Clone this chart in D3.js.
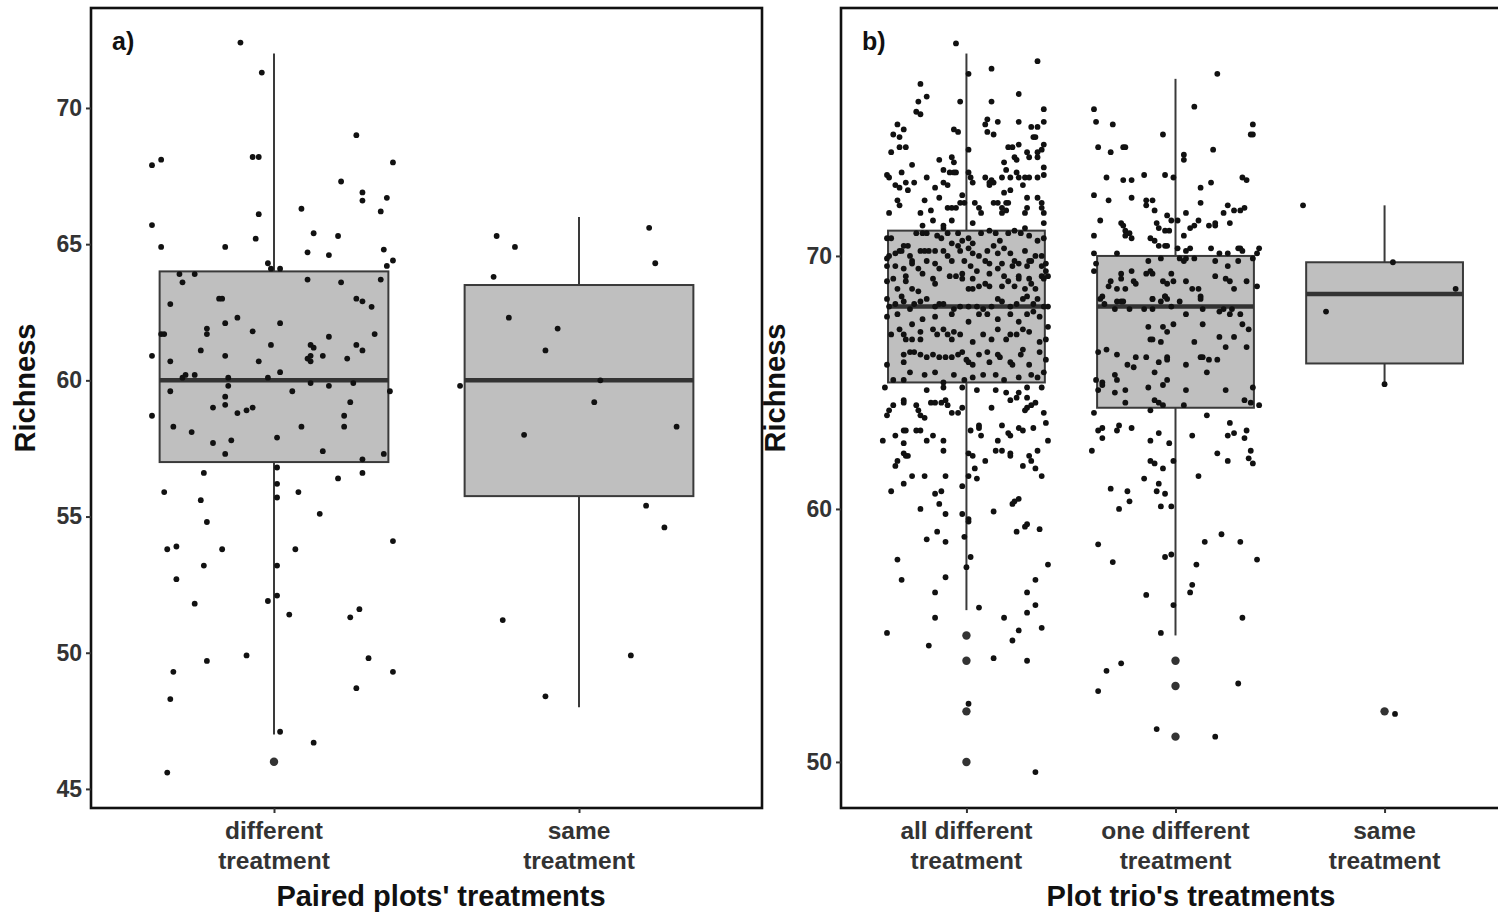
<!DOCTYPE html>
<html><head><meta charset="utf-8">
<script src="https://cdn.jsdelivr.net/npm/d3@7"></script>
<style>
html,body{margin:0;padding:0;background:#fff;}
svg{display:block;font-family:"Liberation Sans",Arial,Helvetica,sans-serif;}
</style></head>
<body><svg id="chart" width="1498" height="913"></svg>
<script>
// ---------- DATA ----------
const aCategories = [["different","treatment"],["same","treatment"]];
const bCategories = [["all different","treatment"],["one different","treatment"],["same","treatment"]];
const aTicks = [45,50,55,60,65,70];
const bTicks = [50,60,70];
// box statistics [lower whisker, Q1, median, Q3, upper whisker]
const aBoxLower = [47, 48], aBoxQ1 = [57, 55.75], aBoxMedian = [60, 60], aBoxQ3 = [64, 63.5], aBoxUpper = [72, 66];
const bBoxLower = [56, 55, 65], bBoxQ1 = [65, 64, 65.75], bBoxMedian = [68, 68, 68.5], bBoxQ3 = [71, 70, 69.75], bBoxUpper = [78, 77, 72];
const aOutliers = [[46.0], []];
const bOutliers = [[55, 54, 52, 50], [54, 53, 51], [52]];
// jittered points: [jitter offset (category units), richness]
const aDifferent = [[-0.11,72.4],[-0.04,71.3],[-0.40,67.9],[-0.37,68.1],[-0.07,68.2],[-0.05,68.2],[0.27,69.0],[0.39,68.0],[0.22,67.3],[0.29,66.9],[0.29,66.6],[0.37,66.7],[0.35,66.2],[0.09,66.3],[-0.40,65.7],[-0.05,66.1],[-0.37,64.9],[-0.16,64.9],[-0.06,65.2],[0.13,65.4],[0.21,65.3],[0.11,64.7],[0.18,64.6],[0.36,64.8],[0.39,64.4],[0.37,64.2],[-0.02,64.3],[-0.01,64.1],[0.02,64.1],[-0.31,63.9],[-0.26,63.9],[-0.30,63.6],[0.11,63.7],[0.22,63.6],[0.35,63.7],[-0.34,62.8],[-0.18,63.0],[-0.17,63.0],[0.27,63.0],[0.29,62.9],[0.32,62.7],[-0.12,62.3],[-0.16,62.1],[0.02,62.1],[-0.22,61.9],[-0.22,61.7],[-0.37,61.7],[-0.36,61.7],[-0.07,61.8],[0.33,61.7],[0.18,61.6],[-0.01,61.3],[0.12,61.3],[0.13,61.2],[0.27,61.3],[0.29,61.1],[-0.24,61.1],[-0.40,60.9],[-0.16,60.9],[-0.34,60.7],[-0.05,60.7],[0.16,60.9],[0.24,60.8],[0.11,60.8],[0.12,60.9],[0.12,60.7],[-0.29,60.2],[-0.26,60.2],[-0.30,60.1],[-0.15,60.1],[-0.02,60.1],[0.02,60.3],[-0.15,59.8],[0.12,59.9],[0.18,59.8],[0.26,59.9],
[0.38,59.6],[-0.34,59.6],[-0.16,59.4],[-0.16,59.1],[-0.20,59.0],[-0.12,58.8],[-0.09,58.9],[-0.07,59.0],[0.06,59.6],[0.25,59.2],[0.23,58.7],[0.23,58.3],[0.09,58.3],[-0.40,58.7],[-0.33,58.3],[-0.27,58.1],[-0.20,57.7],[-0.14,57.8],[0.01,57.9],[-0.16,57.3],[0.16,57.4],[0.36,57.3],[0.29,57.1],[0.01,56.8],[-0.23,56.6],[0.29,56.6],[0.21,56.4],[-0.36,55.9],[-0.24,55.6],[0.01,56.2],[0.01,55.7],[0.08,55.9],[0.15,55.1],[-0.22,54.8],[-0.35,53.8],[-0.32,53.9],[-0.17,53.8],[0.07,53.8],[0.39,54.1],[-0.23,53.2],[0.01,53.2],[-0.32,52.7],[0.01,52.1],[-0.02,51.9],[-0.26,51.8],[0.28,51.6],[0.25,51.3],[0.05,51.4],[-0.09,49.9],[-0.22,49.7],[-0.33,49.3],[0.31,49.8],[0.39,49.3],[0.27,48.7],[-0.34,48.3],[0.02,47.1],[0.13,46.7],[-0.35,45.6]];
const aSame = [[-0.27,65.3],[-0.21,64.9],[-0.28,63.8],[0.23,65.6],[0.25,64.3],[-0.23,62.3],[-0.07,61.9],[-0.11,61.1],[0.07,60.0],[-0.39,59.8],[0.05,59.2],[0.32,58.3],[-0.18,58.0],[0.22,55.4],[0.28,54.6],[-0.25,51.2],[0.17,49.9],[-0.11,48.4]];
const bAllDifferent = [[-0.05,78.4],[0.01,77.2],[0.34,77.7],[0.12,77.4],[-0.22,76.8],[-0.19,76.3],[-0.23,76.1],[-0.24,75.7],[-0.22,75.6],[-0.03,76.1],[0.12,76.1],[0.25,76.4],[0.37,75.8],[0.37,75.3],[0.25,75.3],[0.10,75.4],[0.09,75.2],[0.15,75.3],[0.10,74.9],[0.13,74.8],[0.31,75.1],[0.34,75.1],[0.32,74.7],[0.33,74.7],[-0.33,75.2],[-0.35,74.8],[-0.30,75.0],[-0.32,74.7],[-0.32,74.3],[-0.29,74.3],[-0.36,74.1],[-0.06,75.0],[-0.04,74.9],[0.01,74.2],[-0.07,73.9],[0.20,74.3],[0.22,74.3],[0.25,74.4],[0.29,74.1],[0.30,73.9],[0.34,74.1],[0.34,73.9],[0.23,73.9],[0.24,73.8],[0.37,74.4],[0.36,74.2],[-0.26,73.6],[-0.13,73.8],[-0.11,73.4],[0.18,73.7],[0.19,73.4],[0.24,73.3],[-0.06,73.7],[-0.05,73.3],[0.37,73.5],[0.37,73.2],[-0.38,73.2],[-0.37,73.1],[-0.31,73.3],[-0.19,73.1],[-0.08,73.3],[-0.06,73.3],[0.01,73.3],[0.02,73.1],[0.03,72.9],[0.09,73.1],[0.11,72.9],[0.13,72.9],[0.17,73.1],[0.21,73.1],[0.25,73.1],[0.28,73.1],[0.30,73.1],[0.34,73.1],[-0.34,72.8],[-0.32,72.7],[-0.29,72.9],[-0.28,72.6],[-0.25,72.9],[-0.11,72.9],[-0.09,72.8],[-0.15,72.7],[0.11,72.8],[0.12,73.0],[0.27,72.8],[0.21,72.6],[0.18,72.5],[-0.02,72.4],[-0.01,72.1],[-0.03,72.1],[-0.13,72.3],[-0.20,72.2],[-0.33,72.2],[-0.32,72.0],[-0.37,71.7],[-0.22,71.7],[-0.17,71.8],[-0.09,71.9],[-0.07,71.9],[-0.05,71.9],[0.04,72.1],[0.06,71.9],[0.07,71.7],[0.13,72.1],[0.15,72.1],[0.17,71.9],[0.19,72.1],[0.20,72.1],[0.19,71.8],[0.17,71.7],[0.29,72.3],[0.29,71.9],[0.28,71.7],[0.34,72.3],[0.36,71.9],[0.37,71.7],[0.36,72.1],[0.37,71.3],[-0.21,71.2],[-0.16,71.4],[-0.11,71.2],[-0.07,71.4],[0.03,71.3],
[-0.38,70.7],[-0.36,70.7],[-0.32,70.2],[-0.30,70.4],[-0.28,70.4],[-0.24,70.9],[-0.21,70.9],[-0.19,70.9],[-0.14,70.8],[-0.12,70.7],[-0.11,71.1],[-0.09,70.9],[-0.07,70.5],[-0.04,70.9],[-0.02,70.6],[0.01,70.7],[0.03,70.5],[0.07,70.9],[0.11,71.0],[0.14,70.9],[0.16,70.6],[0.20,70.9],[0.23,71.0],[0.26,70.9],[0.28,71.1],[0.30,70.8],[0.34,70.6],[0.37,70.7],
[-0.38,69.9],[-0.37,70.0],[-0.34,70.1],[-0.31,70.2],[-0.27,70.0],[-0.26,69.8],[-0.22,70.2],[-0.20,70.2],[-0.18,70.2],[-0.15,70.2],[-0.11,70.2],[-0.09,70.0],[-0.04,70.4],[-0.03,70.2],[0.01,70.3],[0.03,70.1],[0.06,70.0],[0.10,70.2],[0.13,70.4],[0.15,70.1],[0.18,70.3],[0.21,70.1],[0.23,69.8],[0.28,70.2],[0.30,69.8],[0.33,70.0],[0.36,70.0],[0.38,69.7],
[-0.38,69.6],[-0.34,69.6],[-0.30,69.5],[-0.26,69.7],[-0.23,69.5],[-0.19,69.8],[-0.15,69.7],[-0.13,69.5],[-0.07,69.8],[-0.01,69.8],[0.02,69.6],[0.05,69.4],[0.09,69.8],[0.11,69.7],[0.15,69.5],[0.17,69.7],[0.22,69.6],[0.25,69.7],[0.29,69.6],[0.31,69.8],[0.36,69.6],[0.38,69.4],
[-0.29,69.2],[-0.21,69.3],[-0.16,69.1],[-0.08,69.2],[-0.02,69.3],[0.03,69.1],[0.11,69.3],[0.18,69.2],[0.25,69.2],[0.30,69.1],[0.36,69.2],
[-0.38,69.0],[-0.35,69.1],[-0.33,68.7],[-0.29,69.0],[-0.26,68.7],[-0.23,68.6],[-0.15,68.9],[-0.05,69.2],[-0.02,69.1],[0.01,68.7],[0.03,68.7],[0.06,68.8],[0.09,68.9],[0.11,68.8],[0.17,68.8],[0.20,69.0],[0.23,68.8],[0.25,69.1],[0.28,68.7],[0.31,68.9],[0.33,68.7],[0.37,69.1],[0.39,69.2],
[-0.38,68.3],[-0.37,68.0],[-0.34,68.1],[-0.31,68.4],[-0.30,68.2],[-0.27,67.9],[-0.25,68.1],[-0.22,68.2],[-0.19,68.3],[-0.15,68.0],[-0.13,68.1],[-0.11,68.1],[-0.06,67.9],[-0.03,68.0],[0.01,68.0],[0.05,68.0],[0.08,67.9],[0.12,68.0],[0.15,68.3],[0.17,68.2],[0.21,68.0],[0.24,68.1],[0.27,68.3],[0.29,68.4],[0.32,68.1],[0.34,68.3],[0.37,68.0],[0.39,68.0],
[-0.38,67.6],[-0.33,67.7],[-0.26,67.3],[-0.21,67.5],[-0.15,67.6],[-0.07,67.7],[0.01,67.4],[0.06,67.7],[0.10,67.7],[0.15,67.5],[0.21,67.7],[0.25,67.4],[0.29,67.7],[0.32,67.8],[0.35,67.6],[0.39,67.2],
[-0.36,66.9],[-0.32,67.1],[-0.30,66.9],[-0.29,66.7],[-0.26,66.7],[-0.22,67.0],[-0.22,66.7],[-0.16,67.1],[-0.14,66.9],[-0.11,67.1],[-0.09,66.9],[-0.07,66.7],[-0.06,67.0],[-0.03,66.9],[0.03,66.6],[0.08,66.9],[0.12,66.7],[0.15,67.1],[0.19,66.7],[0.21,66.9],[0.24,66.9],[0.27,67.1],[0.30,67.0],[0.35,66.6],[0.38,66.7],
[-0.38,65.7],[-0.30,65.8],[-0.30,66.1],[-0.27,66.2],[-0.25,66.2],[-0.22,66.1],[-0.19,66.0],[-0.16,66.1],[-0.13,66.0],[-0.10,66.0],[-0.07,66.0],[-0.04,66.1],[-0.02,66.2],[0.00,65.9],[0.01,65.8],[0.03,65.7],[0.06,66.1],[0.10,66.2],[0.11,65.8],[0.15,66.1],[0.16,66.0],[0.21,65.8],[0.22,65.7],[0.26,66.1],[0.27,66.3],[0.30,65.7],[0.35,66.2],[0.38,65.9],
[-0.35,65.1],[-0.30,65.1],[-0.27,65.4],[-0.20,65.3],[-0.15,65.4],[-0.11,65.0],[-0.06,65.3],[-0.01,65.1],[0.03,65.2],[0.08,65.3],[0.14,65.3],[0.18,65.1],[0.25,65.2],[0.31,65.3],[0.34,65.2],[0.37,65.4],
[-0.39,64.8],[-0.30,64.3],[-0.30,64.2],[-0.35,64.1],[-0.37,63.9],[-0.38,63.7],[-0.24,64.1],[-0.23,63.9],[-0.22,63.7],[-0.20,63.6],[-0.17,64.2],[-0.15,64.2],[-0.12,64.2],[-0.10,64.3],[-0.09,64.1],[-0.19,64.7],[-0.11,64.8],[-0.04,63.8],[-0.02,64.0],[-0.07,63.8],[-0.02,64.8],[0.05,64.7],[0.12,64.0],[0.14,64.7],[0.19,64.6],[0.21,64.3],[0.24,64.4],[0.25,64.6],[0.29,64.4],[0.29,64.0],[0.31,64.1],[0.33,64.2],[0.28,63.9],[0.37,63.8],[0.29,64.8],[0.36,64.8],
[-0.40,62.7],[-0.34,62.9],[-0.30,63.1],[-0.30,62.6],[-0.29,63.1],[-0.24,63.1],[-0.22,63.1],[-0.19,62.7],[-0.16,62.9],[-0.11,62.7],[0.02,63.1],[0.06,63.3],[0.06,63.2],[0.07,62.9],[0.15,62.7],[0.17,63.3],[0.20,63.0],[0.21,62.9],[0.25,63.2],[0.27,63.1],[0.32,63.2],[0.38,63.4],[0.39,62.7],[-0.30,62.2],[-0.29,62.1],[-0.28,62.1],[-0.33,61.9],[-0.34,61.7],[-0.26,61.3],[-0.20,61.3],[-0.11,62.3],[-0.10,61.3],[0.01,62.2],[0.03,62.1],[0.04,61.6],[0.09,61.9],[0.14,62.3],[0.17,62.3],[0.21,62.2],[0.21,62.1],[0.30,62.1],[0.31,61.9],[0.34,62.3],[0.27,61.7],[0.33,61.6],[0.36,61.3],[0.01,61.3],[0.05,61.2],[-0.30,61.0],[-0.02,60.9],[-0.36,60.7],[-0.15,60.6],[-0.12,60.7],[-0.13,60.2],[-0.22,60.0],[-0.10,59.8],[-0.02,59.8],[0.22,60.2],[0.23,60.3],[0.25,60.4],[0.13,59.9],[0.01,59.6],[0.29,59.4],
[-0.14,59.1],[-0.19,58.8],[-0.10,58.7],[-0.01,58.9],[0.01,59.5],[0.24,59.1],[0.28,59.3],[0.35,59.2],[-0.33,58.0],[-0.31,57.2],[-0.10,57.3],[0.02,58.1],[0.00,57.7],[-0.15,56.7],[0.39,57.8],[0.33,57.2],[0.29,56.7],[0.33,56.2],[0.29,55.9],[0.06,56.1],[-0.15,55.7],[0.18,55.7],[-0.38,55.1],[-0.18,54.6],[0.25,55.2],[0.22,54.8],[0.36,55.3],[0.13,54.1],[0.29,54.0],[0.01,52.3],[0.33,49.6]];
const bOneDifferent = [[0.20,77.2],[-0.39,75.8],[-0.38,75.3],[-0.30,75.2],[0.09,75.9],[-0.06,74.8],[0.37,75.2],[0.36,74.8],[0.37,74.8],[-0.37,74.3],[-0.31,74.1],[-0.25,74.3],[-0.24,74.3],[0.18,74.2],[0.04,74.0],[0.04,73.8],[-0.33,73.1],[-0.25,73.0],[-0.21,73.0],[-0.15,73.2],[-0.05,73.2],[-0.01,73.1],[0.17,72.9],[0.32,73.1],[0.34,73.0],[0.12,72.7],[-0.39,72.4],[-0.32,72.2],[-0.21,72.3],[-0.14,72.2],[-0.14,72.0],[-0.11,72.2],[-0.10,71.8],[0.12,72.1],[0.25,72.0],[0.23,71.7],[0.28,71.8],[0.31,71.8],[0.33,71.9],[-0.36,71.4],[-0.26,71.3],[-0.25,71.2],[-0.24,71.0],[-0.22,70.9],[-0.04,71.6],[0.05,71.7],[-0.02,71.4],[0.01,71.4],[-0.09,71.3],[-0.08,71.1],[-0.05,71.0],[-0.03,71.0],[0.07,71.1],[0.09,71.2],[0.11,71.4],[0.16,71.2],[0.19,71.3],[0.19,71.2],[0.26,71.3],[-0.39,70.8],[-0.24,70.8],[-0.21,70.7],[-0.12,70.7],[-0.10,70.6],[0.04,70.8],[-0.08,70.4],[-0.05,70.4],[-0.04,70.4],[0.01,70.3],[0.07,70.3],[0.05,70.2],[0.17,70.3],[0.30,70.3],[0.31,70.3],[0.32,70.2],[0.40,70.3],[0.39,70.1],[-0.39,70.1],[-0.28,70.1],[0.21,70.1],[0.25,70.1],[-0.13,69.8],[-0.07,69.9],[0.02,69.9],[0.04,69.8],[0.05,69.9],[0.09,69.9],
[-0.38,69.7],[-0.39,69.4],[-0.31,69.0],[-0.32,68.8],[-0.28,68.7],[-0.26,69.3],[-0.26,69.1],[-0.24,68.7],[-0.21,69.4],[-0.20,69.0],[-0.19,68.9],[-0.14,69.3],[-0.12,69.4],[-0.11,69.3],[-0.06,69.0],[-0.04,68.9],[-0.02,69.3],[-0.01,69.0],[0.05,69.0],[0.08,68.7],[0.11,68.7],[0.12,68.4],[0.19,69.8],[0.19,69.2],[0.24,69.1],[0.25,69.6],[0.26,69.0],[0.28,68.7],[0.30,69.8],[0.34,69.0],[0.37,69.9],[0.39,68.8],[-0.35,68.4],[-0.11,68.3],[-0.05,68.4],
[-0.36,68.3],[-0.34,68.1],[-0.28,68.2],[-0.26,68.2],[-0.25,68.2],[-0.11,68.3],[-0.07,68.2],[-0.04,68.3],[-0.05,68.4],[0.02,68.2],[0.12,68.3],[0.13,67.9],[-0.02,68.0],[-0.11,67.9],[-0.15,67.9],[-0.22,67.9],[-0.29,67.9],[0.21,67.8],[0.23,67.9],[0.27,67.9],[0.26,67.7],[0.31,67.7],
[0.05,67.7],[-0.13,67.2],[-0.06,67.2],[-0.01,67.3],[0.13,67.3],[0.32,67.3],[0.35,67.1],[-0.04,67.0],[-0.12,66.7],[-0.11,66.7],[-0.07,66.6],[0.09,66.6],[0.21,66.8],[0.28,66.8],[0.24,66.4],[0.34,66.4],[-0.33,66.3],[-0.37,66.2],[-0.28,66.1],[-0.19,66.0],[-0.14,66.0],[-0.04,66.0],[-0.04,65.9],[-0.08,65.8],[0.05,65.7],[0.12,66.0],[0.13,66.0],[0.16,65.9],[0.20,65.9],[-0.23,65.7],[-0.20,65.6],[-0.10,65.4],[0.15,65.4],[-0.29,65.3],[-0.28,65.1],[-0.38,65.1],[-0.35,65.0],[-0.35,64.9],[-0.37,64.7],[-0.29,64.6],[-0.24,64.7],[-0.13,64.8],[-0.06,64.9],[-0.04,65.1],[0.05,64.7],[0.24,64.7],[0.37,64.8],[-0.24,64.2],[-0.10,64.3],[-0.08,64.2],[-0.06,64.1],[0.04,64.1],[0.33,64.3],[0.36,64.2],[0.40,64.1],
[-0.39,63.8],[-0.12,63.9],[0.15,63.7],[-0.37,63.1],[-0.35,63.2],[-0.27,63.3],[-0.28,63.1],[-0.21,63.2],[-0.35,62.8],[-0.12,62.7],[-0.08,63.0],[-0.03,62.6],[0.08,62.9],[0.26,63.4],[0.28,63.0],[0.25,62.9],[0.34,63.1],[0.33,62.8],[-0.40,62.3],[-0.12,61.9],[-0.10,61.8],[-0.06,61.6],[-0.01,61.9],[0.20,62.2],[0.25,61.9],[0.36,62.3],[0.35,62.0],[0.37,61.8],[0.11,61.3],[-0.15,61.2],[-0.31,60.8],[-0.23,60.7],[-0.08,61.0],[-0.09,60.7],[-0.05,60.6],[-0.22,60.3],[-0.27,60.0],[-0.07,60.1],[-0.02,60.1],[0.22,59.0],
[-0.37,58.6],[-0.30,57.9],[-0.05,58.1],[-0.02,58.2],[0.10,57.8],[0.14,58.7],[0.31,58.7],[0.39,58.0],[-0.14,56.6],[0.07,56.7],[0.08,57.0],[-0.01,56.2],[0.32,55.7],[-0.07,55.1],[-0.33,53.6],[-0.26,53.9],[-0.37,52.8],[0.30,53.1],[-0.09,51.3],[0.19,51.0]];
const bSame = [[-0.39,72.0],[0.04,69.75],[0.34,68.7],[-0.28,67.8],[0.00,64.93],[0.05,51.9]];

// ---------- DRAW ----------
const svg = d3.select("#chart");
const TEXT = "#333333";

function drawPanel(cfg) {
  const g = svg.append("g");
  const x = d3.scaleLinear().domain([0.4, cfg.categories.length + 0.6]).range([cfg.left, cfg.right]);
  const y = d3.scaleLinear().domain(cfg.yDomain).range([cfg.bottom, cfg.top]);
  const bw = 0.375;
  const n = cfg.categories.length;
  for (let i = 0; i < n; i++) {
    const c = i + 1;
    g.append("line").attr("x1", x(c)).attr("x2", x(c)).attr("y1", y(cfg.q3[i])).attr("y2", y(cfg.upper[i]))
      .attr("stroke", "#3a3a3a").attr("stroke-width", 2);
    g.append("line").attr("x1", x(c)).attr("x2", x(c)).attr("y1", y(cfg.q1[i])).attr("y2", y(cfg.lower[i]))
      .attr("stroke", "#3a3a3a").attr("stroke-width", 2);
    g.append("rect").attr("x", x(c - bw)).attr("width", x(c + bw) - x(c - bw))
      .attr("y", y(cfg.q3[i])).attr("height", y(cfg.q1[i]) - y(cfg.q3[i]))
      .attr("fill", "#bfbfbf").attr("stroke", "#3a3a3a").attr("stroke-width", 2);
    g.append("line").attr("x1", x(c - bw)).attr("x2", x(c + bw)).attr("y1", y(cfg.median[i])).attr("y2", y(cfg.median[i]))
      .attr("stroke", "#333").attr("stroke-width", 4.5);
    g.selectAll(null).data(cfg.outliers[i]).enter().append("circle")
      .attr("cx", x(c)).attr("cy", d => y(d)).attr("r", 4.2).attr("fill", "#333");
  }
  cfg.points.forEach((pts, i) => {
    g.selectAll(null).data(pts).enter().append("circle")
      .attr("cx", d => x(i + 1 + d[0])).attr("cy", d => y(d[1])).attr("r", 2.9).attr("fill", "#111");
  });
  g.append("rect").attr("x", cfg.left).attr("y", cfg.top).attr("width", cfg.right - cfg.left).attr("height", cfg.bottom - cfg.top)
    .attr("fill", "none").attr("stroke", "#111").attr("stroke-width", 2.6);
  const yAxis = g.append("g").attr("transform", `translate(${cfg.left},0)`)
    .call(d3.axisLeft(y).tickValues(cfg.ticks).tickSize(5).tickPadding(4));
  yAxis.select(".domain").remove();
  yAxis.selectAll(".tick line").attr("stroke", TEXT).attr("stroke-width", 2);
  yAxis.selectAll(".tick text").attr("fill", TEXT).style("font-size", "23px").style("font-weight", "bold")
    .style("font-family", '"Liberation Sans",Arial,sans-serif');
  const xAxis = g.append("g").attr("transform", `translate(0,${cfg.bottom})`)
    .call(d3.axisBottom(x).tickValues(d3.range(1, n + 1)).tickSize(5).tickFormat(""));
  xAxis.select(".domain").remove();
  xAxis.selectAll(".tick line").attr("stroke", TEXT).attr("stroke-width", 2);
  cfg.categories.forEach((lines, i) => {
    const t = g.append("text").attr("text-anchor", "middle").attr("fill", TEXT)
      .style("font-size", "24.5px").style("font-weight", "bold");
    lines.forEach((ln, k) => t.append("tspan").attr("x", x(i + 1)).attr("y", cfg.bottom + 31 + k * 30).text(ln));
  });
  g.append("text").attr("x", cfg.titleX).attr("y", 906).attr("text-anchor", "middle").attr("fill", "#111")
    .style("font-size", "29px").style("font-weight", "bold").text(cfg.xTitle);
  g.append("text").attr("transform", `translate(${cfg.left - 56},${(cfg.top + cfg.bottom) / 2 - 20}) rotate(-90)`)
    .attr("text-anchor", "middle").attr("fill", "#111")
    .style("font-size", "29px").style("font-weight", "bold").text("Richness");
  g.append("text").attr("x", cfg.left + 21).attr("y", 50).attr("fill", "#111")
    .style("font-size", "25px").style("font-weight", "bold").text(cfg.tag);
}

drawPanel({
  left: 91, right: 762, top: 8, bottom: 808, yDomain: [44.3, 73.67],
  categories: aCategories, ticks: aTicks,
  lower: aBoxLower, q1: aBoxQ1, median: aBoxMedian, q3: aBoxQ3, upper: aBoxUpper,
  outliers: aOutliers, points: [aDifferent, aSame],
  xTitle: "Paired plots' treatments", titleX: 441, tag: "a)"
});
drawPanel({
  left: 841, right: 1510, top: 8, bottom: 808, yDomain: [48.18, 79.8],
  categories: bCategories, ticks: bTicks,
  lower: bBoxLower, q1: bBoxQ1, median: bBoxMedian, q3: bBoxQ3, upper: bBoxUpper,
  outliers: bOutliers, points: [bAllDifferent, bOneDifferent, bSame],
  xTitle: "Plot trio's treatments", titleX: 1191, tag: "b)"
});
</script>
</body></html>
